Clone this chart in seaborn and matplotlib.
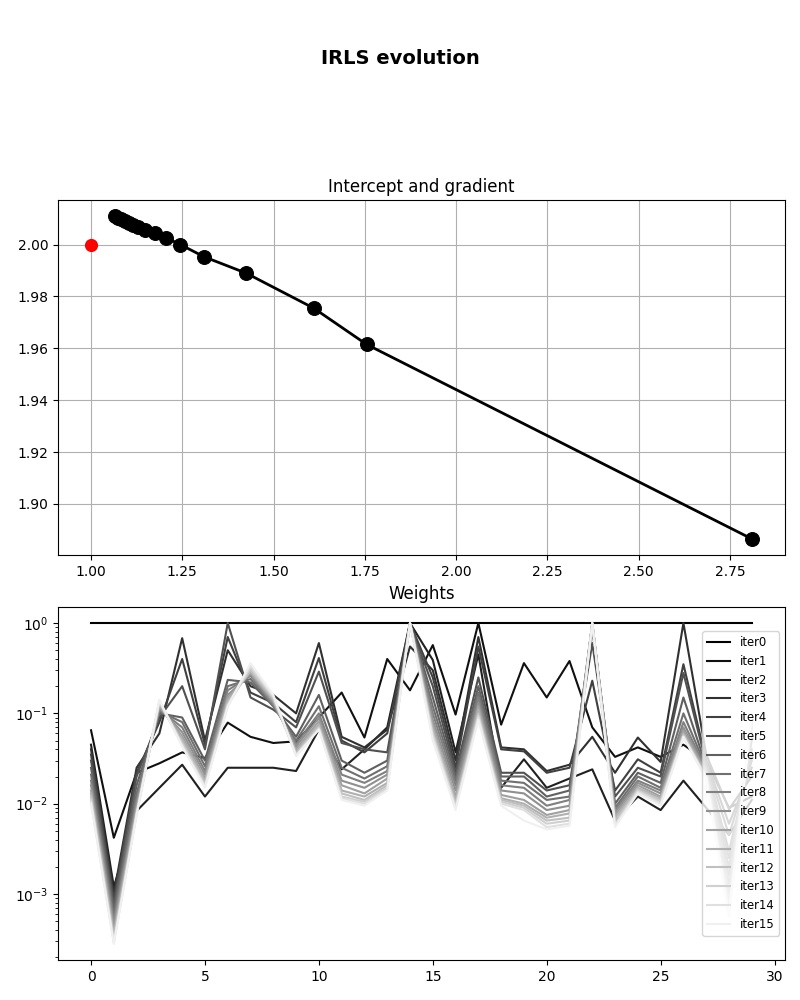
import matplotlib
matplotlib.use('Agg')
import matplotlib.pyplot as plt
import numpy as np
import pandas as pd
import seaborn as sns

# path of the fitted parameters per iteration
intercept = [2.81, 1.755, 1.61, 1.425, 1.31, 1.245, 1.205, 1.175, 1.148, 1.13,
             1.115, 1.103, 1.092, 1.083, 1.075, 1.065]
gradient = [1.8865, 1.9615, 1.9755, 1.989, 1.9953, 2.0, 2.0027, 2.0045, 2.0058, 2.0068,
            2.0077, 2.0085, 2.0092, 2.0098, 2.0103, 2.011]
true_intercept = [1.0]
true_gradient = [2.0]

# weights per point for each iteration
point_index = list(range(30))
iter0 = [1.0] * 30
iter1 = [.065, .0042, .022, .028, .037, .032, .079, .055, .047, .049, .09, .17, .054, .4, .18,
         .57, .097, 1.0, .075, .36, .15, .38, .07, .033, .042, .033, .045, .03, .009, .012]
iter2 = [.045, .0012, .0083, .015, .027, .012, .025, .025, .025, .023, .066, .024, .04, .07, 1.0,
         .39, .037, .45, .015, .031, .015, .019, .024, .0065, .012, .0085, .018, .009, .0045, .011]
iter3 = [.04, .001, .025, .06, .68, .05, .5, .2, .16, .1, .6, .055, .042, .066, .55,
         .3, .03, .7, .042, .04, .023, .027, .055, .022, .054, .029, 1.0, .035, .0087, .02]
iter4 = [.035, .0009, .022, .08, .4, .045, .7, .17, .13, .08, .41, .05, .037, .06, 1.0,
         .25, .025, .55, .04, .038, .022, .025, .23, .014, .031, .022, .35, .03, .006, .025]
iter5 = [.03, .0008, .02, .09, .2, .04, 1.0, .15, .11, .07, .29, .047, .04, .037, 1.0,
         .2, .022, .25, .022, .022, .014, .016, .6, .012, .025, .02, .28, .028, .0045, .03]
iter6 = [.025, .0007, .016, .1, .09, .03, .235, .22, .12, .055, .16, .03, .022, .03, 1.0,
         .15, .02, .2, .02, .02, .012, .014, .85, .01, .022, .017, .15, .026, .003, .033]
iter7 = [.021, .0006, .013, .105, .08, .026, .2, .24, .12, .05, .12, .025, .019, .026, 1.0,
         .12, .018, .17, .018, .017, .011, .012, .95, .009, .02, .015, .1, .025, .0025, .04]
iter8 = [.018, .00052, .011, .11, .07, .023, .18, .26, .125, .046, .1, .021, .017, .023, 1.0,
         .1, .016, .15, .016, .015, .0095, .011, 1.0, .0085, .018, .014, .08, .024, .002, .05]
iter9 = [.016, .00046, .01, .115, .062, .021, .16, .27, .13, .043, .09, .018, .015, .021, 1.0,
         .085, .014, .13, .014, .013, .0085, .0095, 1.0, .008, .017, .013, .07, .023, .0016, .06]
iter10 = [.014, .0004, .009, .12, .056, .019, .15, .28, .135, .04, .082, .016, .013, .019, 1.0,
          .075, .012, .12, .0125, .011, .0075, .0085, 1.0, .0075, .016, .012, .065, .022, .0013, .07]
iter11 = [.013, .00036, .0085, .125, .052, .018, .14, .29, .14, .038, .076, .014, .012, .017, 1.0,
          .068, .011, .11, .0115, .01, .007, .0078, 1.0, .007, .015, .0115, .06, .021, .001, .075]
iter12 = [.012, .00033, .008, .13, .048, .017, .13, .3, .145, .036, .072, .013, .011, .016, 1.0,
          .062, .01, .1, .011, .0095, .0065, .007, 1.0, .0065, .0145, .011, .058, .02, .0008, .08]
iter13 = [.011, .0003, .0078, .135, .046, .016, .125, .32, .15, .035, .069, .012, .0105, .015, 1.0,
          .058, .0095, .095, .0105, .009, .006, .0065, 1.0, .006, .014, .0105, .056, .02, .0007, .09]
iter14 = [.0105, .00029, .0076, .14, .044, .0155, .12, .34, .155, .034, .067, .0115, .01, .0145, 1.0,
          .055, .009, .09, .01, .0085, .0055, .006, 1.0, .0058, .0135, .01, .055, .019, .0006, .095]
iter15 = [.01, .00028, .0075, .14, .043, .015, .12, .36, .16, .034, .066, .011, .0095, .014, 1.0,
          .05, .0085, .085, .0095, .0065, .0052, .0057, 1.0, .0055, .013, .0095, .055, .019, .00056, .1]

weights = [iter0, iter1, iter2, iter3, iter4, iter5, iter6, iter7, iter8, iter9,
           iter10, iter11, iter12, iter13, iter14, iter15]
labels = ['iter%d' % i for i in range(len(weights))]

fig = plt.figure(figsize=(8, 10), dpi=100)
ax1 = fig.add_axes([0.0725, 0.445, 0.9085, 0.355])
ax2 = fig.add_axes([0.0725, 0.04, 0.9085, 0.353])

# top: parameter path
sns.lineplot(x=intercept, y=gradient, sort=False, color='black', linewidth=2,
             marker='o', markersize=10, markeredgecolor='black', ax=ax1)
sns.scatterplot(x=true_intercept, y=true_gradient, color='red', s=90,
                edgecolor='red', linewidth=0, ax=ax1, zorder=3)
ax1.grid(True, color='#b0b0b0')
ax1.set_title('Intercept and gradient')

# bottom: weights
grays = plt.cm.gray(np.arange(len(weights)) / len(weights))
for w, name, c in zip(weights, labels, grays):
    sns.lineplot(x=point_index, y=w, color=c, linewidth=1.5, label=name, ax=ax2)
ax2.set_yscale('log')
ax2.set_title('Weights')
ax2.legend(loc='center right', fontsize='small')

fig.suptitle('IRLS evolution', fontsize=14, fontweight='bold', y=0.951)
fig.savefig('out.png', dpi=100)
